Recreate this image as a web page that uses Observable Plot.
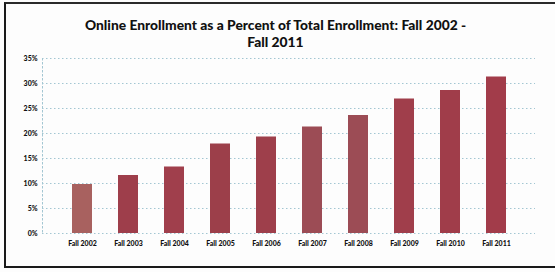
<!DOCTYPE html>
<html>
<head>
<meta charset="utf-8">
<script src="https://cdn.jsdelivr.net/npm/d3@7"></script>
<script src="https://cdn.jsdelivr.net/npm/@observablehq/plot@0.6"></script>
<style>
  html, body { margin: 0; padding: 0; background: #fff; }
  #wrap { position: relative; width: 555px; height: 272px; overflow: hidden; background: #fdfdfd; }
  #frame { position: absolute; left: 4px; top: 2px; width: 560px; height: 262px;
           border-left: 2px solid #1a1a1a; border-top: 2px solid #2a2a2a; border-bottom: 2px solid #1a1a1a; }
  #title { position: absolute; left: 0; top: 16px; width: 551px; text-align: center;
           font-family: Lato, "Open Sans", sans-serif; font-weight: 900; font-size: 13.8px;
           line-height: 17px; color: #111; }
  #chart { position: absolute; left: 0; top: 50px; }
</style>
</head>
<body>
<div id="wrap">
  <div id="frame"></div>
  <div id="title">Online Enrollment as a Percent of Total Enrollment: Fall 2002 -<br>Fall 2011</div>
  <div id="chart"></div>
</div>
<script>
const years = ["Fall 2002","Fall 2003","Fall 2004","Fall 2005","Fall 2006","Fall 2007","Fall 2008","Fall 2009","Fall 2010","Fall 2011"];
const percents = [9.8, 11.6, 13.3, 17.9, 19.3, 21.3, 23.6, 26.9, 28.6, 31.3];
const barColors = ["#a8615f","#9e3e4b","#a03f4c","#9c3f4a","#9e3f4b","#9c4c55","#9c4c55","#a03e4b","#a03d4a","#a23c4a"];
const yTicks = [0, 5, 10, 15, 20, 25, 30, 35];

const data = years.map((y, i) => ({year: y, value: percents[i], color: barColors[i]}));

const chart = Plot.plot({
  width: 555,
  height: 222,
  marginTop: 8,
  marginBottom: 39,
  marginLeft: 42,
  marginRight: 20,
  style: {background: "transparent", fontFamily: "Lato, 'Open Sans', sans-serif", fontSize: "7px", fontWeight: "900", color: "#111"},
  x: {domain: years, padding: 0.57, label: null},
  y: {domain: [0, 35], label: null, ticks: yTicks},
  marks: [
    Plot.gridY(yTicks, {stroke: "#a3c6d2", strokeOpacity: 1, strokeDasharray: "1.5,2.5", strokeWidth: 1}),
    Plot.frame({anchor: "left", stroke: "#a3c6d2", strokeDasharray: "1.5,2.5"}),
    Plot.barY(data, {x: "year", y: "value", fill: "color"}),
    Plot.axisY(yTicks, {tickSize: 0, tickPadding: 5, tickFormat: d => d + "%", fontSize: 7, fontWeight: 900}),
    Plot.axisX({tickSize: 0, tickPadding: 8, fontSize: 7, fontWeight: 900})
  ]
});
document.getElementById("chart").appendChild(chart);
</script>
</body>
</html>
